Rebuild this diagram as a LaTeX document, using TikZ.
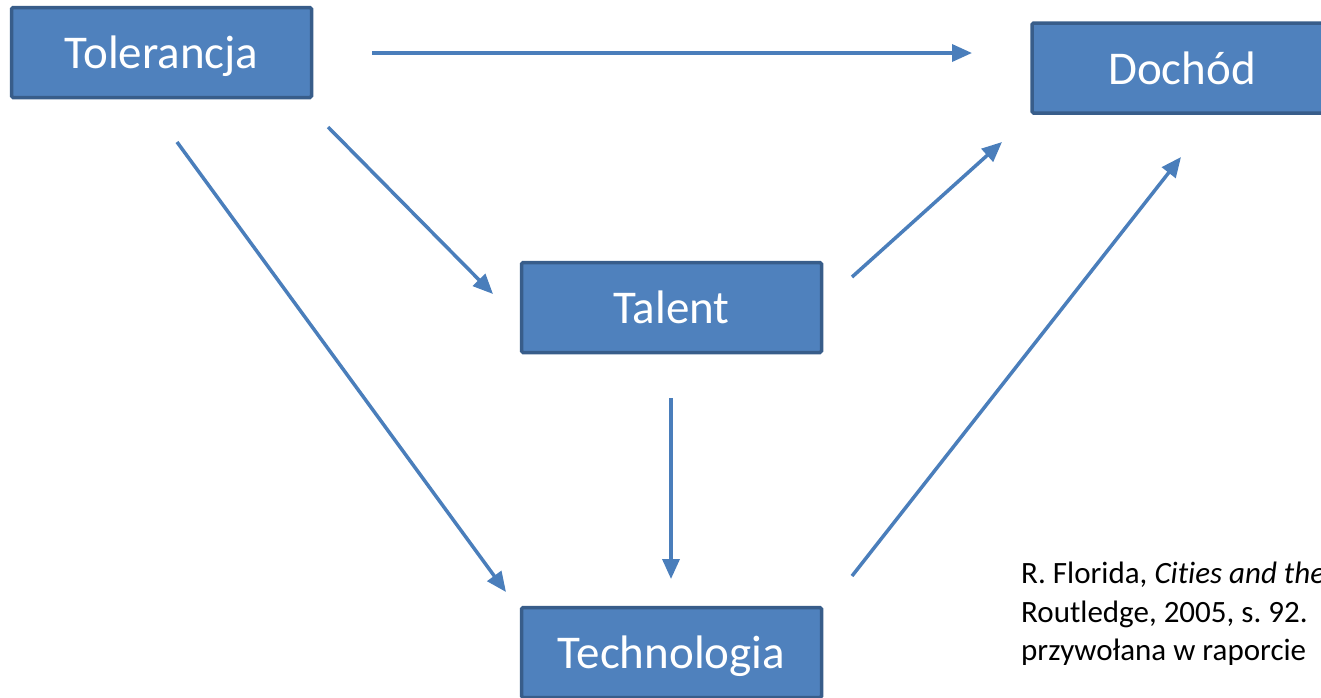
\documentclass[tikz,border=0pt]{standalone}
\usepackage{fontspec}
\setmainfont{Carlito}[Ligatures={NoCommon}]
\usetikzlibrary{arrows.meta}
\definecolor{boxfill}{HTML}{4F81BD}
\definecolor{boxline}{HTML}{385D8A}
\definecolor{arr}{HTML}{4A7EBB}
\frenchspacing
\tikzset{
  box/.style={draw=boxline, fill=boxfill, line width=3.5pt, rounded corners=1.5pt,
    minimum width=300pt, minimum height=90pt, inner sep=0pt, text=white,
    text height=32pt, text depth=0pt,
    font=\fontsize{47}{54}\selectfont},
  conn/.style={draw=arr, line width=3.5pt, -{Triangle[length=20pt,width=17pt]}},
  cite/.style={anchor=north west, align=left, inner sep=0pt, font=\fontsize{31}{38.5}\selectfont}
}
\begin{document}
\begin{tikzpicture}[x=1pt,y=-1pt]
\useasboundingbox (0,0) rectangle (1321,697);
\clip (0,0) rectangle (1321,697);
\node[box] (tol) at (161.5,52.5) {Tolerancja};
\node[box] (doc) at (1182,68) {Dochód};
\node[box] (tal) at (671.5,307.5) {Talent};
\node[box] (tec) at (671.5,652.5) {Technologia};
\node[cite] (src) at (1021,562) {R. Florida, \textit{Cities and the}\\Routledge, 2005, s. 92.\\przywołana w raporcie};
\coordinate (a1s) at (372,53); \coordinate (a1e) at (972,53);
\coordinate (a2s) at (328,127); \coordinate (a2e) at (493,294);
\coordinate (a3s) at (177,142); \coordinate (a3e) at (506,592);
\coordinate (a4s) at (852,277); \coordinate (a4e) at (1002,142);
\coordinate (a5s) at (671,398); \coordinate (a5e) at (671,579);
\coordinate (a6s) at (852,576); \coordinate (a6e) at (1181,157);
\draw[conn] (a1s) -- (a1e);
\draw[conn] (a2s) -- (a2e);
\draw[conn] (a3s) -- (a3e);
\draw[conn] (a4s) -- (a4e);
\draw[conn] (a5s) -- (a5e);
\draw[conn] (a6s) -- (a6e);
\end{tikzpicture}
\end{document}
